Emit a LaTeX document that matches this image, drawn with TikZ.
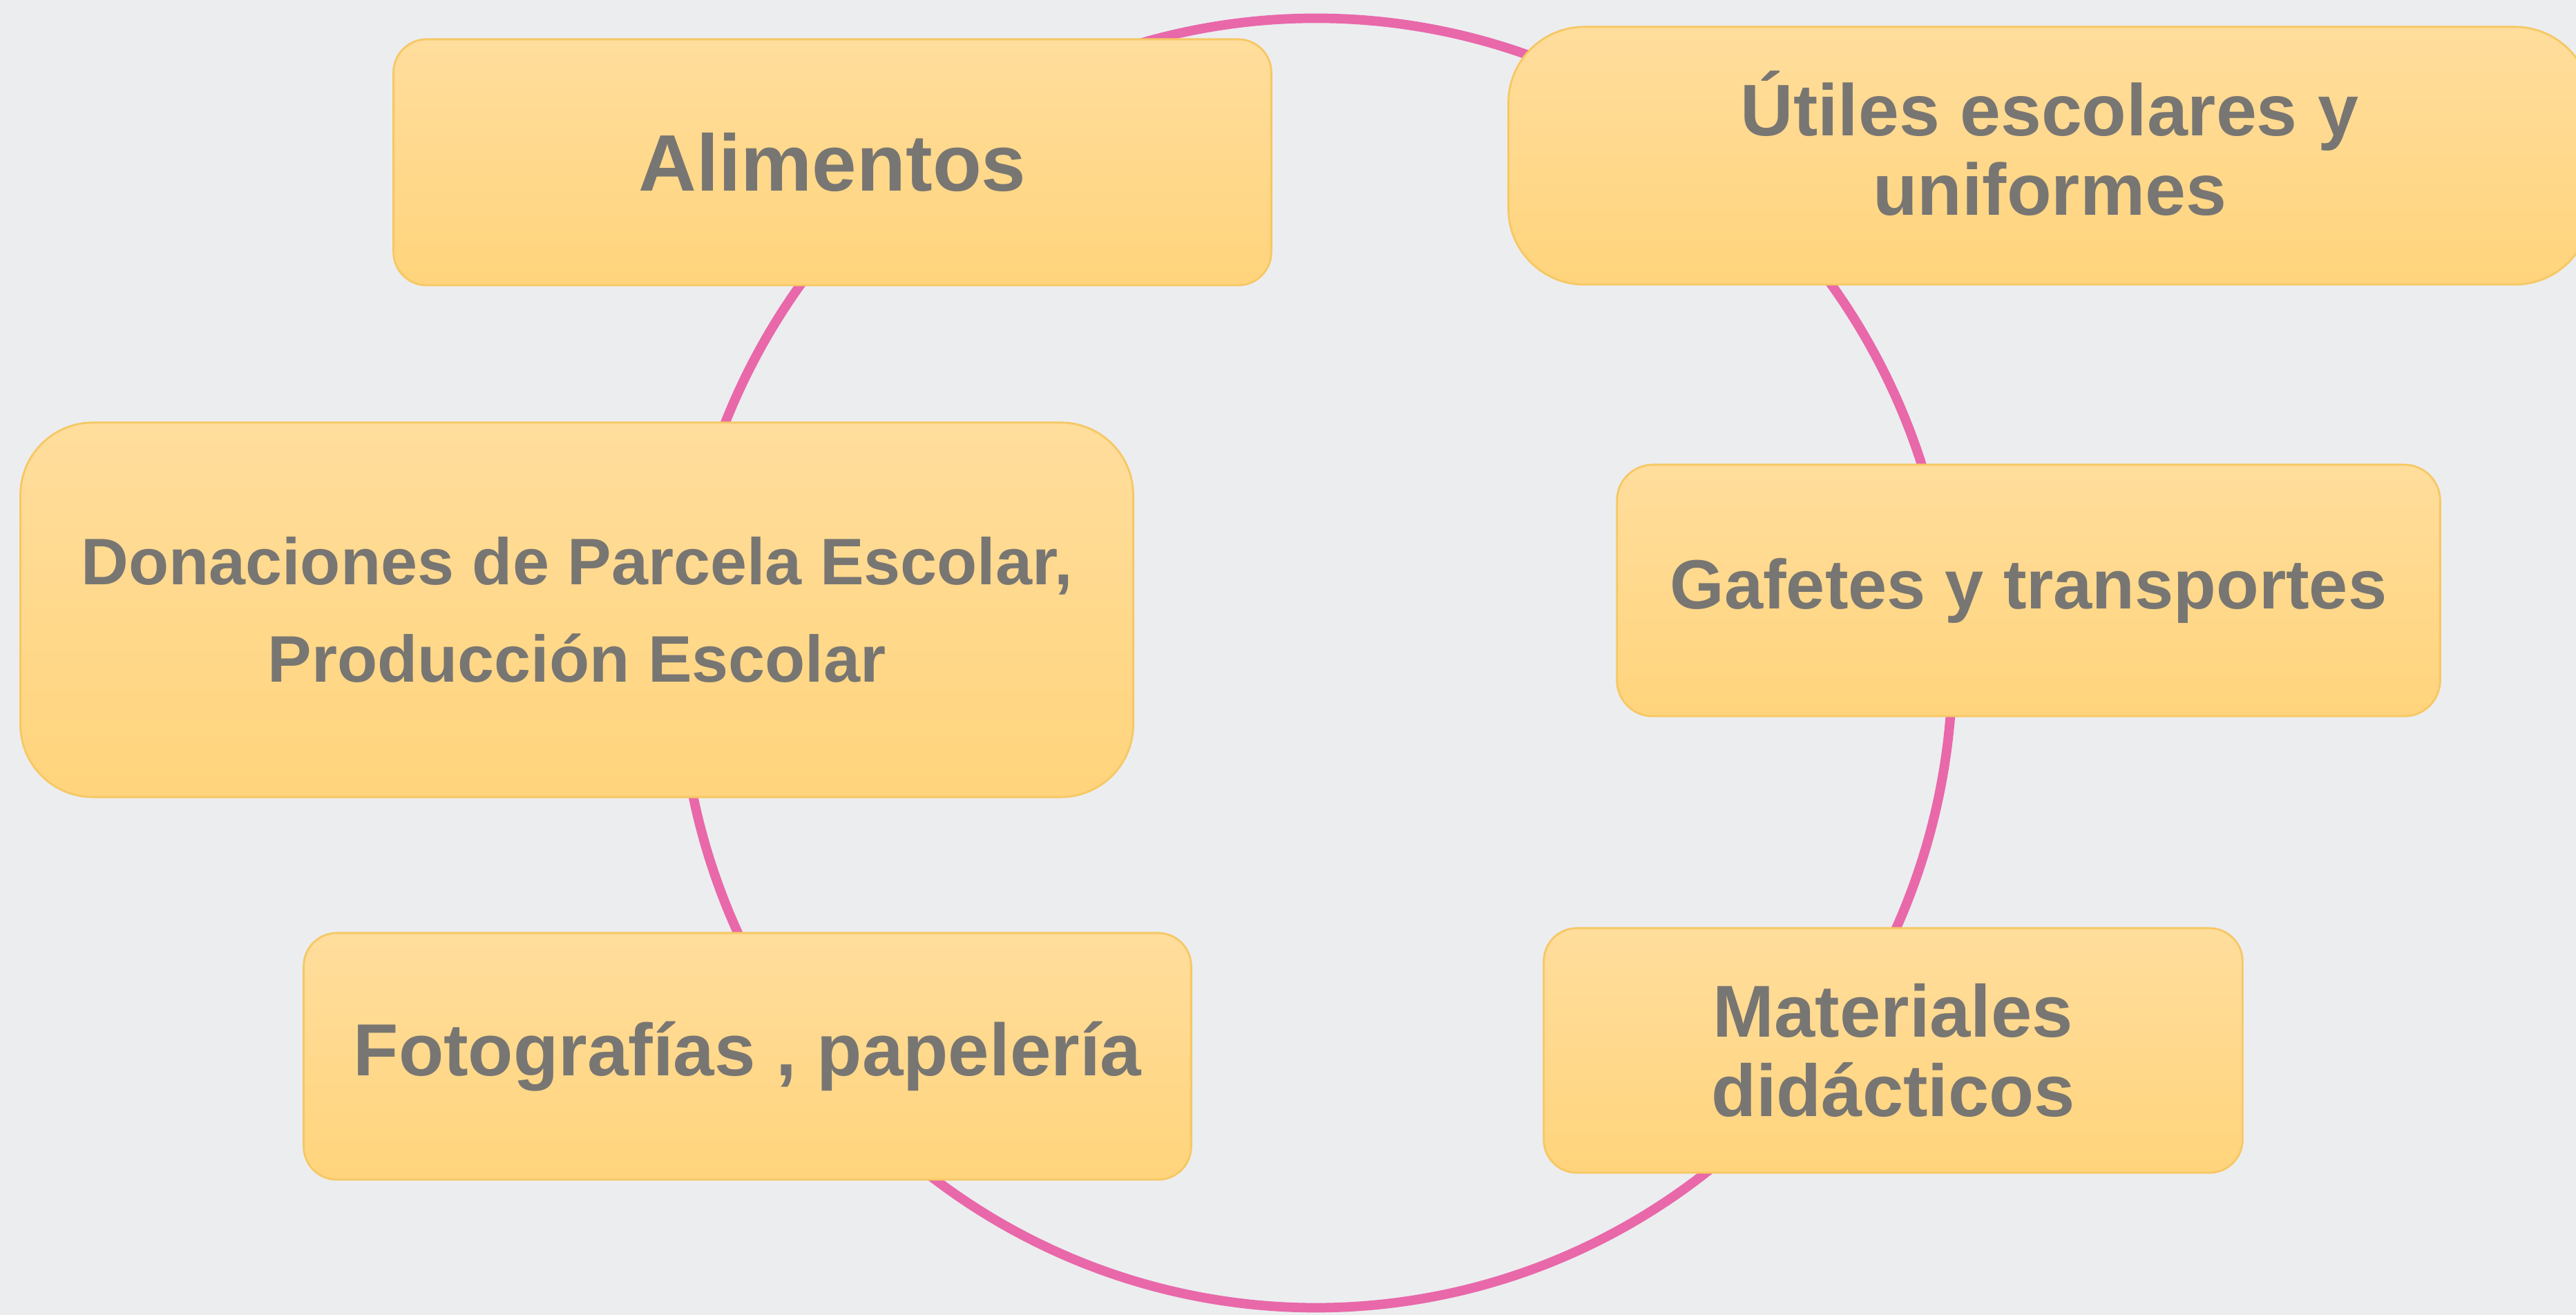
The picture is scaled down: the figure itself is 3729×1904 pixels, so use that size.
\documentclass[tikz,border=0pt]{standalone}
\usepackage{fontspec}
\setmainfont{Liberation Sans}
\definecolor{bgc}{RGB}{236,237,239}
\definecolor{ringc}{RGB}{232,104,170}
\definecolor{boxtop}{RGB}{255,221,156}
\definecolor{boxbot}{RGB}{255,212,124}
\definecolor{boxline}{RGB}{246,200,100}
\definecolor{txtc}{RGB}{120,118,114}
\pgfdeclarelayer{background}
\pgfsetlayers{background,main}
\tikzset{
  itembox/.style={rectangle, draw=boxline, line width=0.8pt, top color=boxtop,
    bottom color=boxbot, text=txtc, align=center, inner sep=0pt},
  ring/.style={draw=ringc, line width=3.9pt},
}
\begin{document}
\begin{tikzpicture}[x=0.01cm, y=0.01cm]
\useasboundingbox (0,0) rectangle (3729,1904);
\begin{pgfonlayer}{background}
\fill[bgc] (0,0) rectangle (3729,1904);
\end{pgfonlayer}

\node[itembox, minimum width=12.70cm, minimum height=3.56cm, rounded corners=0.48cm,
  font={\bfseries\fontsize{33}{36}\selectfont}] (alim) at (1205,1669) {Alimentos};
\node[itembox, minimum width=15.66cm, minimum height=3.73cm, rounded corners=1.1cm,
  font={\bfseries\fontsize{30.1}{32.7}\selectfont}] (util) at (2967,1678.5)
  {Útiles escolares y\\uniformes\rule[-10.2pt]{0pt}{10.2pt}};
\node[itembox, minimum width=16.10cm, minimum height=5.42cm, rounded corners=1.05cm,
  font={\bfseries\fontsize{27.1}{40.1}\selectfont}] (don) at (835,1021)
  {Donaciones de Parcela Escolar,\\Producción Escolar};
\node[itembox, minimum width=11.91cm, minimum height=3.64cm, rounded corners=0.52cm,
  font={\bfseries\fontsize{28.7}{31}\selectfont}] (gaf) at (2936.5,1049)
  {Gafetes y transportes};
\node[itembox, minimum width=12.84cm, minimum height=3.57cm, rounded corners=0.48cm,
  font={\bfseries\fontsize{30.4}{33}\selectfont}] (fot) at (1082,374.5)
  {Fotografías , papelería};
\node[itembox, minimum width=10.11cm, minimum height=3.54cm, rounded corners=0.48cm,
  font={\bfseries\fontsize{30.3}{32.7}\selectfont}] (mat) at (2740.5,383)
  {Materiales\\didácticos};

\coordinate (ctr) at (1905,944);
\path (ctr) ++(125:9.21cm and 9.33cm) coordinate (eAlim);
\path (ctr) ++(54:9.21cm and 9.33cm) coordinate (eUti);
\path (ctr) ++(6.5:9.21cm and 9.33cm) coordinate (eGaf);
\path (ctr) ++(-38:9.21cm and 9.33cm) coordinate (eMat);
\path (ctr) ++(218.5:9.21cm and 9.33cm) coordinate (eFot);
\path (ctr) ++(175:9.21cm and 9.33cm) coordinate (eDon);

\begin{pgfonlayer}{background}
\draw[ring] (eMat) arc[start angle=-38, end angle=6.5, x radius=9.21cm, y radius=9.33cm];
\draw[ring] (eGaf) arc[start angle=6.5, end angle=54, x radius=9.21cm, y radius=9.33cm];
\draw[ring] (eUti) arc[start angle=54, end angle=125, x radius=9.21cm, y radius=9.33cm];
\draw[ring] (eAlim) arc[start angle=125, end angle=175, x radius=9.21cm, y radius=9.33cm];
\draw[ring] (eDon) arc[start angle=175, end angle=218.5, x radius=9.21cm, y radius=9.33cm];
\draw[ring] (eFot) arc[start angle=218.5, end angle=322, x radius=9.21cm, y radius=9.33cm];
\end{pgfonlayer}
\end{tikzpicture}
\end{document}
